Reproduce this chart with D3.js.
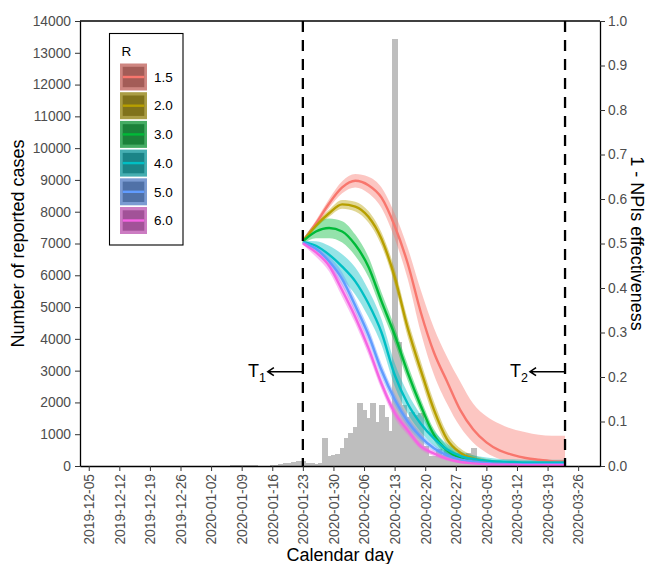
<!DOCTYPE html>
<html>
<head>
<meta charset="utf-8">
<script src="https://cdn.jsdelivr.net/npm/d3@7"></script>
<style>
  body { margin: 0; background: #fff; }
  text { font-family: "Liberation Sans", Arial, sans-serif; }
</style>
</head>
<body>
<script>
/////////////////////////////////////////////////
// data /////////////////////////////////////////
/////////////////////////////////////////////////

// daily reported cases, starting 2020-01-05
const caseStart = "2020-01-05";
const cases = [
  10, 15, 20, 30, 40, 40, 30, 20,
  10, 10, 15, 25, 40,
  60, 90, 110, 130, 150, 170,
  100, 80, 70, 90,
  892, 315, 356, 378, 576, 894, 1033, 1242, 1967, 1766, 1501, 1985, 1379, 1921, 1552, 1104,
  13436, 3910, 1923, 1548, 1690, 1600, 1660, 615, 319, 314, 541, 348, 499, 401, 401, 409, 313,
  420, 565, 193, 111, 114, 126, 74, 41, 36, 17, 13, 8, 5, 4, 4, 0, 1, 0, 0, 0, 0, 0, 0
];

// 1 - NPIs effectiveness, days after T1
const t1 = "2020-01-23";
const t2 = "2020-03-23";
const curveDays = [0, 3, 6, 9, 12, 15, 18, 21, 24, 27, 30, 33, 36, 39, 42, 45, 48, 51, 54, 57, 60];

const rLevels = ["1.5", "2.0", "3.0", "4.0", "5.0", "6.0"];
const rColors = ["#F8766D", "#B79F00", "#00BA38", "#00BFC4", "#619CFF", "#F564E3"];

const mid15 = [0.505, 0.545, 0.59, 0.626, 0.641, 0.631, 0.603, 0.54, 0.455, 0.345, 0.255, 0.19, 0.126, 0.082, 0.053, 0.035, 0.025, 0.018, 0.014, 0.011, 0.01];
const lo15  = [0.5, 0.538, 0.58, 0.613, 0.626, 0.613, 0.58, 0.512, 0.42, 0.3, 0.205, 0.14, 0.088, 0.052, 0.03, 0.016, 0.01, 0.006, 0.004, 0.003, 0.002];
const hi15  = [0.51, 0.552, 0.6, 0.64, 0.656, 0.65, 0.626, 0.568, 0.49, 0.395, 0.31, 0.245, 0.19, 0.14, 0.112, 0.095, 0.083, 0.076, 0.07, 0.068, 0.068];

const mid20 = [0.505, 0.54, 0.568, 0.588, 0.583, 0.56, 0.51, 0.425, 0.31, 0.215, 0.126, 0.06, 0.03, 0.017, 0.011, 0.008, 0.006, 0.005, 0.004, 0.004, 0.004];
const lo20  = [0.5, 0.535, 0.56, 0.578, 0.572, 0.547, 0.495, 0.408, 0.29, 0.196, 0.108, 0.047, 0.021, 0.011, 0.006, 0.004, 0.003, 0.002, 0.002, 0.002, 0.002];
const hi20  = [0.51, 0.545, 0.576, 0.598, 0.594, 0.573, 0.525, 0.443, 0.33, 0.235, 0.145, 0.075, 0.04, 0.024, 0.016, 0.012, 0.01, 0.008, 0.007, 0.007, 0.007];

const mid30 = [0.505, 0.527, 0.535, 0.527, 0.497, 0.448, 0.37, 0.295, 0.21, 0.135, 0.07, 0.035, 0.018, 0.01, 0.007, 0.005, 0.004, 0.004, 0.003, 0.003, 0.003];
const lo30  = [0.5, 0.512, 0.512, 0.502, 0.472, 0.425, 0.35, 0.277, 0.192, 0.12, 0.058, 0.026, 0.012, 0.006, 0.004, 0.003, 0.002, 0.002, 0.002, 0.002, 0.002];
const hi30  = [0.51, 0.545, 0.556, 0.55, 0.52, 0.47, 0.39, 0.313, 0.228, 0.15, 0.083, 0.045, 0.025, 0.015, 0.011, 0.008, 0.007, 0.006, 0.005, 0.005, 0.005];

const mid40 = [0.503, 0.495, 0.475, 0.448, 0.415, 0.365, 0.3, 0.205, 0.14, 0.095, 0.062, 0.037, 0.023, 0.016, 0.012, 0.01, 0.009, 0.008, 0.008, 0.008, 0.008];
const lo40  = [0.5, 0.485, 0.458, 0.42, 0.385, 0.335, 0.272, 0.18, 0.118, 0.076, 0.046, 0.025, 0.014, 0.009, 0.006, 0.005, 0.004, 0.003, 0.003, 0.003, 0.003];
const hi40  = [0.506, 0.505, 0.495, 0.476, 0.446, 0.396, 0.33, 0.232, 0.164, 0.115, 0.078, 0.05, 0.033, 0.024, 0.019, 0.016, 0.015, 0.014, 0.014, 0.014, 0.014];

const mid50 = [0.502, 0.488, 0.46, 0.42, 0.36, 0.295, 0.215, 0.15, 0.1, 0.065, 0.04, 0.024, 0.015, 0.01, 0.007, 0.005, 0.004, 0.004, 0.004, 0.004, 0.004];
const lo50  = [0.499, 0.48, 0.448, 0.405, 0.345, 0.28, 0.2, 0.137, 0.089, 0.056, 0.033, 0.018, 0.011, 0.007, 0.004, 0.003, 0.002, 0.002, 0.002, 0.002, 0.002];
const hi50  = [0.505, 0.496, 0.472, 0.435, 0.375, 0.31, 0.23, 0.163, 0.111, 0.074, 0.047, 0.03, 0.02, 0.014, 0.01, 0.008, 0.007, 0.006, 0.006, 0.006, 0.006];

const mid60 = [0.5, 0.48, 0.45, 0.395, 0.335, 0.265, 0.185, 0.12, 0.08, 0.044, 0.028, 0.016, 0.009, 0.006, 0.004, 0.003, 0.003, 0.002, 0.002, 0.002, 0.002];
const lo60  = [0.497, 0.47, 0.437, 0.38, 0.32, 0.25, 0.172, 0.108, 0.07, 0.037, 0.022, 0.012, 0.006, 0.004, 0.002, 0.002, 0.001, 0.001, 0.001, 0.001, 0.001];
const hi60  = [0.503, 0.49, 0.463, 0.41, 0.35, 0.28, 0.198, 0.132, 0.09, 0.052, 0.034, 0.021, 0.013, 0.009, 0.006, 0.005, 0.004, 0.004, 0.004, 0.004, 0.004];

const mids = [mid15, mid20, mid30, mid40, mid50, mid60];
const los = [lo15, lo20, lo30, lo40, lo50, lo60];
const his = [hi15, hi20, hi30, hi40, hi50, hi60];

const xTickLabels = [
  "2019-12-05", "2019-12-12", "2019-12-19", "2019-12-26", "2020-01-02",
  "2020-01-09", "2020-01-16", "2020-01-23", "2020-01-30", "2020-02-06",
  "2020-02-13", "2020-02-20", "2020-02-27", "2020-03-05", "2020-03-12",
  "2020-03-19", "2020-03-26"
];
const leftTicks = d3.range(0, 14001, 1000);
const rightTicks = d3.range(0, 1.001, 0.1);

/////////////////////////////////////////////////
// setup ////////////////////////////////////////
/////////////////////////////////////////////////

const width = 651, height = 564;
const pLeft = 80, pRight = 600, pTop = 21, pBottom = 466;

const parse = d3.utcParse("%Y-%m-%d");
const day0 = parse(caseStart);
const T1 = parse(t1), T2 = parse(t2);

const svg = d3.select("body").append("svg")
  .attr("width", width)
  .attr("height", height);

const x = d3.scaleUtc()
  .domain([parse("2019-12-03"), parse("2020-03-31")])
  .range([pLeft, pRight]);
const yL = d3.scaleLinear().domain([0, 14000]).range([pBottom, pTop]);
const yR = d3.scaleLinear().domain([0, 1]).range([pBottom, pTop]);

const dayW = x(d3.utcDay.offset(day0, 1)) - x(day0);

/////////////////////////////////////////////////
// histogram ////////////////////////////////////
/////////////////////////////////////////////////

svg.append("g")
  .attr("shape-rendering", "crispEdges")
  .selectAll("rect")
  .data(cases)
  .join("rect")
  .attr("x", (d, i) => Math.floor(x(d3.utcDay.offset(day0, i)) - dayW / 2))
  .attr("width", Math.ceil(dayW) + 1)
  .attr("y", d => yL(d))
  .attr("height", d => yL(0) - yL(d))
  .attr("fill", "#bebebe");

/////////////////////////////////////////////////
// ribbons + lines //////////////////////////////
/////////////////////////////////////////////////

const cx = (d, i) => x(d3.utcDay.offset(T1, curveDays[i]));

rLevels.forEach((r, k) => {
  const area = d3.area()
    .x((d, i) => cx(d, i))
    .y0((d, i) => yR(los[k][i]))
    .y1((d, i) => yR(his[k][i]))
    .curve(d3.curveMonotoneX);
  svg.append("path")
    .attr("d", area(curveDays))
    .attr("fill", rColors[k])
    .attr("fill-opacity", 0.42);
});

rLevels.forEach((r, k) => {
  const line = d3.line()
    .x((d, i) => cx(d, i))
    .y(d => yR(d))
    .curve(d3.curveMonotoneX);
  svg.append("path")
    .attr("d", line(mids[k]))
    .attr("fill", "none")
    .attr("stroke", rColors[k])
    .attr("stroke-width", 2.4);
});

/////////////////////////////////////////////////
// axes /////////////////////////////////////////
/////////////////////////////////////////////////

const styleAxis = g => {
  g.select(".domain").attr("stroke", "#000").attr("stroke-width", 1.3);
  g.selectAll(".tick line").attr("stroke", "#333");
  g.selectAll(".tick text").attr("fill", "#4d4d4d").style("font-size", "13.8px")
    .style("font-family", '"Liberation Sans", Arial, sans-serif');
};

svg.append("g")
  .attr("transform", `translate(${pLeft},0)`)
  .call(d3.axisLeft(yL).tickValues(leftTicks).tickSize(5).tickSizeOuter(0).tickPadding(4).tickFormat(d3.format("d")))
  .call(styleAxis);

svg.append("g")
  .attr("transform", `translate(${pRight},0)`)
  .call(d3.axisRight(yR).tickValues(rightTicks).tickSize(5).tickSizeOuter(0).tickPadding(3).tickFormat(d3.format(".1f")))
  .call(styleAxis);

svg.append("g")
  .attr("transform", `translate(0,${pBottom})`)
  .call(d3.axisBottom(x).tickValues(xTickLabels.map(parse)).tickSize(5).tickSizeOuter(0).tickFormat(d3.utcFormat("%Y-%m-%d")))
  .call(styleAxis)
  .call(g => g.selectAll(".tick text")
    .attr("transform", "rotate(-90)")
    .attr("x", -8)
    .attr("y", 0)
    .attr("dy", "0.35em")
    .style("text-anchor", "end"));

// top border
svg.append("line")
  .attr("x1", pLeft).attr("x2", pRight)
  .attr("y1", pTop).attr("y2", pTop)
  .attr("stroke", "#000").attr("stroke-width", 1.3);

/////////////////////////////////////////////////
// T1 / T2 //////////////////////////////////////
/////////////////////////////////////////////////

const markers = [{ d: T1, sub: "1" }, { d: T2, sub: "2" }];
const arrowY = 371.7;

markers.forEach(m => {
  const mx = x(m.d);
  svg.append("line")
    .attr("x1", mx).attr("x2", mx)
    .attr("y1", pTop).attr("y2", pBottom)
    .attr("stroke", "#000")
    .attr("stroke-width", 2.3)
    .attr("stroke-dasharray", "11,8");
  svg.append("path")
    .attr("d", `M${mx},${arrowY}H${mx - 35}M${mx - 29},${arrowY - 4}L${mx - 35},${arrowY}L${mx - 29},${arrowY + 4}`)
    .attr("fill", "none")
    .attr("stroke", "#000")
    .attr("stroke-width", 1.6);
  const t = svg.append("text")
    .attr("x", mx - 37)
    .attr("y", arrowY + 5)
    .attr("text-anchor", "end")
    .style("font-size", "18px")
    .attr("fill", "#000");
  t.append("tspan").text("T");
  t.append("tspan").attr("dy", 5).style("font-size", "12.5px").text(m.sub);
});

/////////////////////////////////////////////////
// titles ///////////////////////////////////////
/////////////////////////////////////////////////

svg.append("text")
  .attr("transform", `translate(24,${(pTop + pBottom) / 2}) rotate(-90)`)
  .attr("text-anchor", "middle")
  .style("font-size", "18px")
  .text("Number of reported cases");

svg.append("text")
  .attr("transform", `translate(631,${(pTop + pBottom) / 2}) rotate(90)`)
  .attr("text-anchor", "middle")
  .style("font-size", "18px")
  .text("1 - NPIs effectiveness");

svg.append("text")
  .attr("x", (pLeft + pRight) / 2)
  .attr("y", 561)
  .attr("text-anchor", "middle")
  .style("font-size", "18px")
  .text("Calendar day");

/////////////////////////////////////////////////
// legend ///////////////////////////////////////
/////////////////////////////////////////////////

const lg = svg.append("g").attr("transform", "translate(109.5,33.5)");
lg.append("rect")
  .attr("width", 73.5).attr("height", 211.5)
  .attr("fill", "#fff").attr("stroke", "#000").attr("stroke-width", 1.1);
lg.append("text").attr("x", 12).attr("y", 22).style("font-size", "13.5px").text("R");

rLevels.forEach((r, k) => {
  const g = lg.append("g").attr("transform", `translate(10.5,${30 + k * 28.7})`);
  g.append("rect").attr("width", 27).attr("height", 27)
    .attr("fill", d3.interpolateRgb(rColors[k], "#9a9a9a")(0.45));
  g.append("rect").attr("x", 2.7).attr("y", 3.3).attr("width", 21.6).attr("height", 20.4)
    .attr("fill", d3.interpolateRgb(rColors[k], "#3c3c3c")(0.45));
  g.append("line").attr("x1", 2.7).attr("x2", 24.3).attr("y1", 13.5).attr("y2", 13.5)
    .attr("stroke", rColors[k]).attr("stroke-width", 2.4);
  g.append("text").attr("x", 34).attr("y", 13.5).attr("dy", "0.35em")
    .style("font-size", "13.5px").text(r);
});
</script>
</body>
</html>
